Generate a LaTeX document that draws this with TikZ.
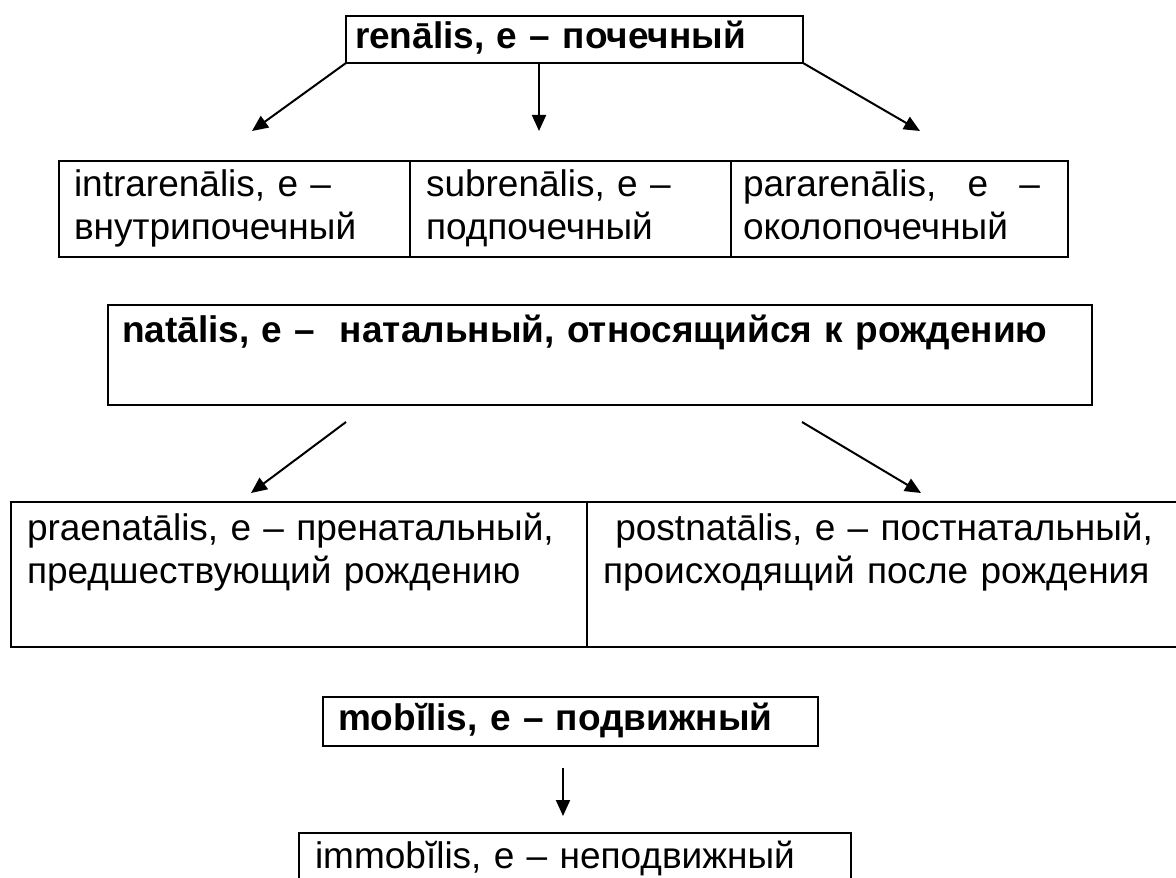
\documentclass[tikz,border=0pt]{standalone}
\usepackage{fontspec}
\setmainfont{Liberation Sans}
\usetikzlibrary{arrows.meta}

\begin{document}
\begin{tikzpicture}[x=0.5pt, y=-0.5pt,
    cell/.style={draw, line width=1.1pt, anchor=north west, outer sep=0pt,
      inner ysep=0pt, inner xsep=7.5pt, align=left,
      font=\fontsize{18.5}{21.5}\selectfont},
    head/.style={cell, font=\fontsize{18.5}{21.5}\selectfont\bfseries},
    link/.style={line width=1pt, -{Triangle[length=8pt, width=7pt]}}]
  \useasboundingbox (0,0) rectangle (1176,877);
  \clip (0,0) rectangle (1176,877);

  % renalis
  \node[head, text width=219.5pt, inner xsep=4.5pt, minimum height=23.5pt] (renalis) at (346,16)
    {\strut renālis, e – почечный};
  \node[cell, text width=160.5pt, minimum height=48pt] (intra) at (59,161)
    {\strut intrarenālis, e –\\ \strut внутрипочечный};
  \node[cell, text width=144.5pt, inner xsep=8pt, minimum height=48pt] (subren) at (410,161)
    {\strut subrenālis, e –\\ \strut подпочечный};
  \node[cell, text width=156.5pt, inner xsep=6pt, minimum height=48pt] (pararen) at (731,161)
    {\strut\hbox to 148.5pt{pararenālis,\hfill e\hfill –}\\ \strut околопочечный};
  \coordinate (rtipL) at (252,131);
  \coordinate (rtipM) at (539,131);
  \coordinate (rtipR) at (920,131);
  \draw[link] (renalis.south west) -- (rtipL);
  \draw[link] (renalis.south -| rtipM) -- (rtipM);
  \draw[link] (renalis.south east) -- (rtipR);

  % natalis
  \node[head, text width=478pt, inner xsep=7pt, minimum height=50pt] (natalis) at (108,305)
    {\strut natālis, e – ~натальный, относящийся к рождению\\ \strut};
  \node[cell, text width=272pt, inner xsep=8pt, minimum height=72.5pt] (praenat) at (11,502)
    {\strut praenatālis, e – пренатальный,\\ \strut предшествующий рождению\\ \strut};
  \node[cell, text width=294pt, inner xsep=8pt, minimum height=72.5pt] (postnat) at (587,502)
    {\strut\ postnatālis, e – постнатальный,\\ \strut происходящий после рождения\\ \strut};
  \coordinate (nfromL) at (346,422);
  \coordinate (ntipL) at (251,493);
  \coordinate (nfromR) at (802,422);
  \coordinate (ntipR) at (921,493);
  \draw[link] (nfromL) -- (ntipL);
  \draw[link] (nfromR) -- (ntipR);

  % mobilis
  \node[head, text width=232.5pt, minimum height=24.5pt] (mobilis) at (323,697)
    {\strut mobĭlis, e – подвижный};
  \node[cell, text width=260pt, inner xsep=8pt, minimum height=48pt] (immobilis) at (299,833)
    {\strut immobĭlis, e – неподвижный\\ \strut};
  \coordinate (mfrom) at (563,768);
  \coordinate (mtip) at (563,816);
  \draw[link] (mfrom) -- (mtip);
\end{tikzpicture}
\end{document}
